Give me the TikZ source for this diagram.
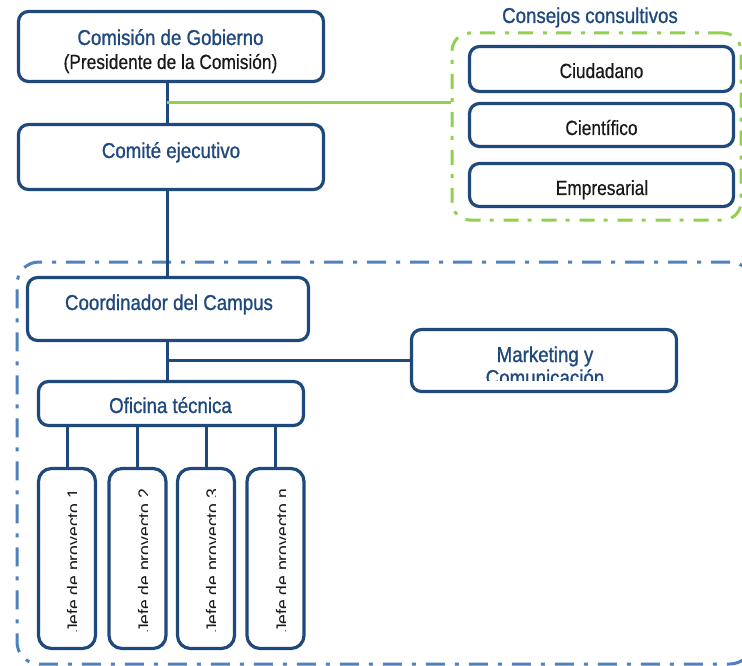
\documentclass[tikz,border=0pt]{standalone}
\usepackage{fontspec}
\newfontfamily\bluefont[FakeStretch=0.87,FakeBold=1]{Liberation Sans}
\newfontfamily\blackfont[FakeStretch=0.845,FakeBold=0.5]{Liberation Sans}
\newfontfamily\jfont{Liberation Sans}
\definecolor{dblue}{RGB}{31,73,125}
\definecolor{lblue}{RGB}{79,129,189}
\definecolor{lgreen}{RGB}{146,208,80}
\tikzset{
  box/.style={draw=dblue, line width=3.2pt, rounded corners=10pt, fill=white, inner sep=0pt},
  jbox/.style={box, rounded corners=13pt, minimum width=57pt, minimum height=180pt},
  btext/.style={text=dblue, inner sep=0pt, font=\bluefont\fontsize{21.5}{24}\selectfont},
  ktext/.style={text=black!90, inner sep=0pt, font=\blackfont\fontsize{20.5}{24}\selectfont},
  jtext/.style={text=black!90, inner sep=0pt, rotate=90, anchor=base, font=\jfont\fontsize{17.5}{20}\selectfont},
  link/.style={draw=dblue, line width=3pt},
  glink/.style={draw=lgreen, line width=3pt},
  gframe/.style={draw=lgreen, line width=3pt, rounded corners=18pt, dash pattern=on 15pt off 9pt on 4pt off 10pt, inner sep=0pt},
  bframe/.style={draw=lblue, line width=3pt, rounded corners=22pt, dash pattern=on 19pt off 10pt on 4pt off 10pt, inner sep=0pt},
}
\begin{document}
\begin{tikzpicture}[x=1pt,y=-1pt]
\path[use as bounding box, clip] (0,0) rectangle (742,666);
\fill[white] (0,0) rectangle (742,666);

% frames
\node[gframe, minimum width=289pt, minimum height=187pt] (cons) at (596.5,126.5) {};
\node[bframe, minimum width=735pt, minimum height=402pt] (campus) at (384.5,463) {};

% junction coordinates
\coordinate (tr) at (167,0);
\coordinate (gj) at (167,103);
\coordinate (mj) at (167,360);

% boxes
\node[box, minimum width=305pt, minimum height=70pt] (cg) at (171,46.5) {};
\node[box, minimum width=305pt, minimum height=65pt] (ce) at (171,157) {};
\node[box, minimum width=281pt, minimum height=63pt] (cc) at (168,309) {};
\node[box, minimum width=265pt, minimum height=62pt] (mk) at (544,360.5) {};
\node[box, minimum width=265pt, minimum height=44pt] (ot) at (171,403.5) {};
\node[box, minimum width=264pt, minimum height=45pt] (ciud) at (601.5,69) {};
\node[box, minimum width=264pt, minimum height=43pt] (cien) at (601.5,125) {};
\node[box, minimum width=264pt, minimum height=43pt] (emp) at (601.5,185) {};
\node[jbox] (j1) at (67,558.5) {};
\node[jbox] (j2) at (137.5,558.5) {};
\node[jbox] (j3) at (206,558.5) {};
\node[jbox] (j4) at (275.5,558.5) {};

% connectors
\draw[link] (cg.south -| tr) -- (ce.north -| tr);
\draw[link] (ce.south -| tr) -- (cc.north -| tr);
\draw[link] (cc.south -| tr) -- (ot.north -| tr);
\draw[link] (mj) -- (mk.west |- mj);
\draw[glink] (gj) -- (cons.west |- gj);
\foreach \j in {j1,j2,j3,j4}{
  \draw[link] (\j.north) -- (\j.north |- ot.south);
}

% texts
\node[btext, anchor=base] (tcg) at (170.5,45) {Comisión de Gobierno};
\node[ktext, anchor=base] (tpc) at (170.5,69) {(Presidente de la Comisión)};
\node[btext, anchor=base] (tce) at (171,158) {Comité ejecutivo};
\node[btext, anchor=base] (tcc) at (169,310) {Coordinador del Campus};
\node[btext, anchor=base] (tot) at (170.5,413) {Oficina técnica};
\node[btext, anchor=base] (tcons) at (590,23) {Consejos consultivos};
\node[ktext, anchor=base] (tciud) at (601.5,78) {Ciudadano};
\node[ktext, anchor=base] (tcien) at (601.5,135) {Científico};
\node[ktext, anchor=base] (temp) at (602,195) {Empresarial};
\node[btext, anchor=base] (tmk1) at (545,362) {Marketing y};
\begin{scope}
  \clip (410,328) rectangle (678,380);
  \node[btext, anchor=base] (tmk2) at (545,385) {Comunicación};
\end{scope}
\begin{scope}
  \clip (37,467) rectangle (76,650);
  \node[jtext] (tj1) at (79.5,561) {Jefe de proyecto 1};
\end{scope}
\begin{scope}
  \clip (108,467) rectangle (147,650);
  \node[jtext] (tj2) at (150.5,561) {Jefe de proyecto 2};
\end{scope}
\begin{scope}
  \clip (176,467) rectangle (215,650);
  \node[jtext] (tj3) at (218.5,561) {Jefe de proyecto 3};
\end{scope}
\begin{scope}
  \clip (246,467) rectangle (285,650);
  \node[jtext] (tj4) at (288.5,561) {Jefe de proyecto n};
\end{scope}
\end{tikzpicture}
\end{document}
